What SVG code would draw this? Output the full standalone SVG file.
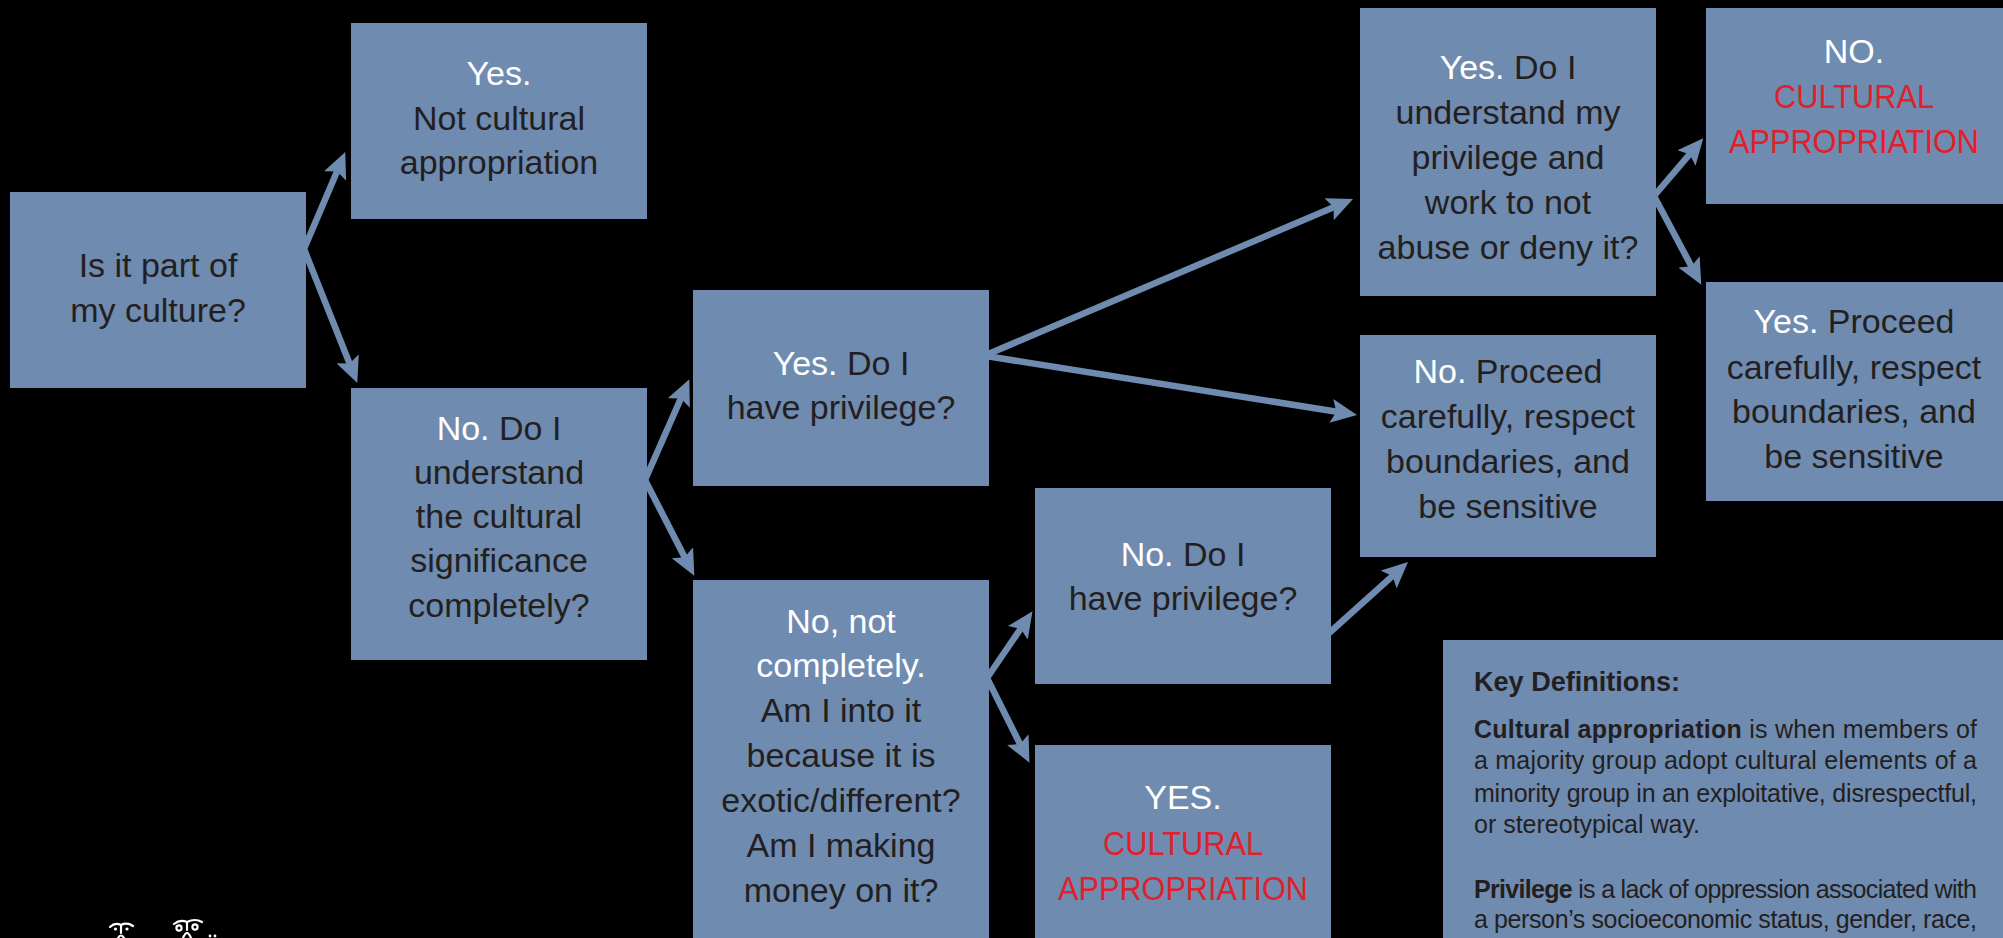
<svg xmlns="http://www.w3.org/2000/svg" width="2003" height="938" viewBox="0 0 2003 938">
<style>
.bg{fill:#000000}
.box{fill:#6F8BB0}
.t{font-family:"Liberation Sans",Arial,sans-serif;font-size:34px;fill:#231F20;text-anchor:middle}
.w{fill:#FFFFFF}
.r{fill:#E0202B}
.d{font-family:"Liberation Sans",Arial,sans-serif;font-size:25px;fill:#231F20}
.b{font-weight:bold}
.h{font-family:"Liberation Sans",Arial,sans-serif;font-size:28px;font-weight:bold;fill:#231F20}
.arr{stroke:#6F8BB0;stroke-width:6.5;fill:none;marker-end:url(#ah)}
.orn{stroke:#FFFFFF;stroke-width:2.2;fill:none;stroke-linecap:round}
</style>
<defs>
<marker id="ah" markerUnits="userSpaceOnUse" markerWidth="26" markerHeight="24" refX="12" refY="12" orient="auto" viewBox="0 0 26 24">
<path d="M0,0 L26,12 L0,24 L5,12 Z" fill="#6F8BB0"/>
</marker>
</defs>
<rect class="bg" x="0" y="0" width="2003" height="938"/>

<g id="connectors">
<line class="arr" x1="304" y1="249" x2="339.8" y2="165"/>
<line class="arr" x1="304" y1="249" x2="352.1" y2="369.9"/>
<line class="arr" x1="645" y1="480" x2="683.7" y2="392"/>
<line class="arr" x1="645" y1="480" x2="687.9" y2="563.4"/>
<line class="arr" x1="986" y1="355" x2="1340.1" y2="204.5"/>
<line class="arr" x1="986" y1="356" x2="1343.2" y2="412.8"/>
<line class="arr" x1="987" y1="678" x2="1024.6" y2="622.9"/>
<line class="arr" x1="987" y1="678" x2="1023.2" y2="750.3"/>
<line class="arr" x1="1328" y1="634" x2="1397.6" y2="571.4"/>
<line class="arr" x1="1654" y1="196" x2="1694.2" y2="148.9"/>
<line class="arr" x1="1654" y1="196" x2="1694.7" y2="272.5"/>
</g>

<g id="n-culture">
<rect class="box" x="10" y="192" width="296" height="196"/>
<text class="t" x="158" y="277">Is it part of</text>
<text class="t" x="158" y="322">my culture?</text>
</g>

<g id="n-yes-not">
<rect class="box" x="351" y="23" width="296" height="196"/>
<text class="t w" x="499" y="85">Yes.</text>
<text class="t" x="499" y="130">Not cultural</text>
<text class="t" x="499" y="174">appropriation</text>
</g>

<g id="n-no-understand">
<rect class="box" x="351" y="388" width="296" height="272"/>
<text class="t" x="499" y="440"><tspan class="w">No.</tspan> Do I</text>
<text class="t" x="499" y="484">understand</text>
<text class="t" x="499" y="528">the cultural</text>
<text class="t" x="499" y="572">significance</text>
<text class="t" x="499" y="617">completely?</text>
</g>

<g id="n-yes-privilege">
<rect class="box" x="693" y="290" width="296" height="196"/>
<text class="t" x="841" y="375"><tspan class="w">Yes.</tspan> Do I</text>
<text class="t" x="841" y="419">have privilege?</text>
</g>

<g id="n-not-completely">
<rect class="box" x="693" y="580" width="296" height="358"/>
<text class="t w" x="841" y="633">No, not</text>
<text class="t w" x="841" y="677">completely.</text>
<text class="t" x="841" y="722">Am I into it</text>
<text class="t" x="841" y="767">because it is</text>
<text class="t" x="841" y="812">exotic/different?</text>
<text class="t" x="841" y="857">Am I making</text>
<text class="t" x="841" y="902">money on it?</text>
</g>

<g id="n-no-privilege">
<rect class="box" x="1035" y="488" width="296" height="196"/>
<text class="t" x="1183" y="566"><tspan class="w">No.</tspan> Do I</text>
<text class="t" x="1183" y="610">have privilege?</text>
</g>

<g id="n-yes-appropriation">
<rect class="box" x="1035" y="745" width="296" height="193"/>
<text class="t w" x="1183" y="809">YES.</text>
<text class="t r" x="1183" y="855" textLength="160" lengthAdjust="spacingAndGlyphs">CULTURAL</text>
<text class="t r" x="1183" y="900" textLength="250" lengthAdjust="spacingAndGlyphs">APPROPRIATION</text>
</g>

<g id="n-understand-privilege">
<rect class="box" x="1360" y="8" width="296" height="288"/>
<text class="t" x="1508" y="79"><tspan class="w">Yes.</tspan> Do I</text>
<text class="t" x="1508" y="124">understand my</text>
<text class="t" x="1508" y="169">privilege and</text>
<text class="t" x="1508" y="214">work to not</text>
<text class="t" x="1508" y="259">abuse or deny it?</text>
</g>

<g id="n-no-proceed">
<rect class="box" x="1360" y="335" width="296" height="222"/>
<text class="t" x="1508" y="383"><tspan class="w">No.</tspan> Proceed</text>
<text class="t" x="1508" y="428">carefully, respect</text>
<text class="t" x="1508" y="473">boundaries, and</text>
<text class="t" x="1508" y="518">be sensitive</text>
</g>

<g id="n-no-appropriation">
<rect class="box" x="1706" y="8" width="297" height="196"/>
<text class="t w" x="1854" y="63">NO.</text>
<text class="t r" x="1854" y="108" textLength="160" lengthAdjust="spacingAndGlyphs">CULTURAL</text>
<text class="t r" x="1854" y="153" textLength="250" lengthAdjust="spacingAndGlyphs">APPROPRIATION</text>
</g>

<g id="n-yes-proceed">
<rect class="box" x="1706" y="282" width="297" height="219"/>
<text class="t" x="1854" y="333"><tspan class="w">Yes.</tspan> Proceed</text>
<text class="t" x="1854" y="379">carefully, respect</text>
<text class="t" x="1854" y="423">boundaries, and</text>
<text class="t" x="1854" y="468">be sensitive</text>
</g>

<g id="n-definitions">
<rect class="box" x="1443" y="640" width="560" height="298"/>
<text class="h" x="1474" y="691" textLength="206" lengthAdjust="spacingAndGlyphs">Key Definitions:</text>
<text class="d" x="1474" y="738" textLength="503" lengthAdjust="spacing"><tspan class="b">Cultural appropriation</tspan> is when members of</text>
<text class="d" x="1474" y="769" textLength="503" lengthAdjust="spacing">a majority group adopt cultural elements of a</text>
<text class="d" x="1474" y="802" textLength="503" lengthAdjust="spacing">minority group in an exploitative, disrespectful,</text>
<text class="d" x="1474" y="833">or stereotypical way.</text>
<text class="d" x="1474" y="898" textLength="503" lengthAdjust="spacing"><tspan class="b">Privilege</tspan> is a lack of oppression associated with</text>
<text class="d" x="1474" y="928" textLength="503" lengthAdjust="spacing">a person’s socioeconomic status, gender, race,</text>
</g>

<g id="ornaments">
<path class="orn" d="M110,927 Q115,922 121,925 Q127,922 133,926"/>
<circle cx="115.5" cy="929" r="1.6" fill="#FFFFFF"/>
<circle cx="127" cy="929" r="1.6" fill="#FFFFFF"/>
<path class="orn" d="M121,925 L121,933 M118,938 Q121,933 124,938"/>
<path class="orn" d="M174,924 Q180,919 187,922 Q195,918 202,922"/>
<circle class="orn" cx="179" cy="928" r="2.6"/>
<circle class="orn" cx="195" cy="927" r="2.6"/>
<path class="orn" d="M187,922 L187,930 M183,938 Q187,928 191,938"/>
<circle cx="210" cy="936" r="1.4" fill="#FFFFFF"/>
<circle cx="215" cy="936" r="1.4" fill="#FFFFFF"/>
</g>
</svg>
